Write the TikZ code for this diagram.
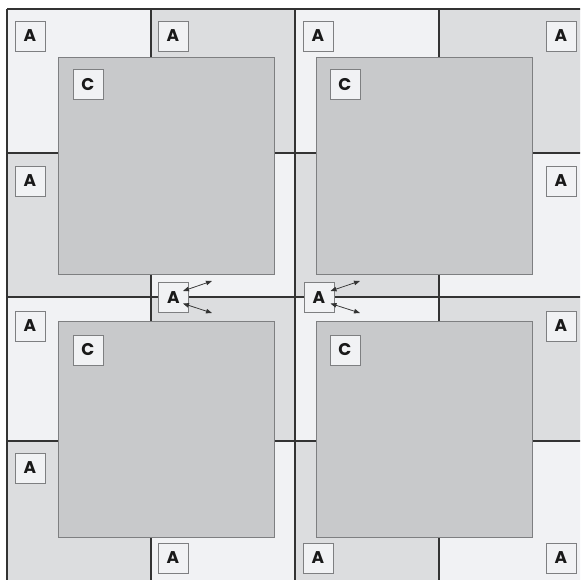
\documentclass[tikz,border=0pt]{standalone}
\usepackage{fontspec}
\setmainfont{Poppins}
\usepackage{xcolor}
\usepackage{tikz}
\usetikzlibrary{arrows.meta, positioning, calc}
\definecolor{paleshade}{HTML}{F1F2F4}
\definecolor{midshade}{HTML}{DCDDDF}
\definecolor{coreshade}{HTML}{C8C9CB}
\definecolor{gridline}{HTML}{333333}
\definecolor{boxline}{HTML}{7E7F81}

\begin{document}
\begin{tikzpicture}[
    x=1pt, y=-1pt,
    rule/.style={draw=gridline, line width=1.2pt},
    core/.style={rectangle, draw=boxline, fill=coreshade, minimum size=216pt, inner sep=0pt, line width=1pt},
    tag/.style={rectangle, draw=boxline, fill=paleshade, minimum size=30pt, inner sep=0pt, line width=0.9pt, font=\bfseries\fontsize{17}{17}\selectfont, text=black!90},
    link/.style={{Triangle[length=6pt,width=4.5pt]}-{Triangle[length=6pt,width=4.5pt]}, draw=black!80, line width=0.75pt},
]

\clip (0,0) rectangle (580,580);
\fill[white] (0,0) rectangle (580,580);

% checkerboard of cells
\fill[paleshade] (7,9) rectangle (583,585);
\foreach \c/\r in {1/0,3/0,0/1,2/1,1/2,3/2,0/3,2/3}
    \fill[midshade] ({7+144*\c},{9+144*\r}) rectangle ++(144,144);
\foreach \k in {0,...,4} {
    \draw[rule] ({7+144*\k},9) -- ({7+144*\k},585);
    \draw[rule] (7,{9+144*\k}) -- (583,{9+144*\k});
}

% large squares
\node[core] (sqTL) at (166,166) {};
\node[core] (sqTR) at (424,166) {};
\node[core] (sqBL) at (166,429) {};
\node[core] (sqBR) at (424,429) {};

\node[tag, below right=12pt and 15pt of sqTL.north west] (cTL) {C};
\node[tag, below right=12pt and 14pt of sqTR.north west] (cTR) {C};
\node[tag, below right=14pt and 15pt of sqBL.north west] (cBL) {C};
\node[tag, below right=14pt and 14pt of sqBR.north west] (cBR) {C};

% corner tags
\node[tag] (a11) at (30,36) {A};
\node[tag] (a12) at (173,36) {A};
\node[tag] (a13) at (318,36) {A};
\node[tag] (a14) at (561,36) {A};
\node[tag] (a21) at (30,181) {A};
\node[tag] (a24) at (561,181) {A};
\node[tag] (a31) at (30,326) {A};
\node[tag] (a34) at (561,326) {A};
\node[tag] (a41) at (30,468) {A};
\node[tag] (a42) at (173,558) {A};
\node[tag] (a43) at (318,558) {A};
\node[tag] (a44) at (561,558) {A};

% middle tags
\node[tag] (hubL) at (173.5,297.5) {A};
\node[tag] (hubR) at (319,297.5) {A};

\coordinate (hubLup) at (212,281);
\coordinate (hubLdn) at (212,313);
\coordinate (hubRup) at (360,281);
\coordinate (hubRdn) at (360,313);

\draw[link] ($(hubL.east)+(-6,-6.5)$) -- (hubLup);
\draw[link] ($(hubL.east)+(-6,6)$) -- (hubLdn);
\draw[link] ($(hubR.east)+(-4,-6.5)$) -- (hubRup);
\draw[link] ($(hubR.east)+(-4,6)$) -- (hubRdn);

\end{tikzpicture}
\end{document}
